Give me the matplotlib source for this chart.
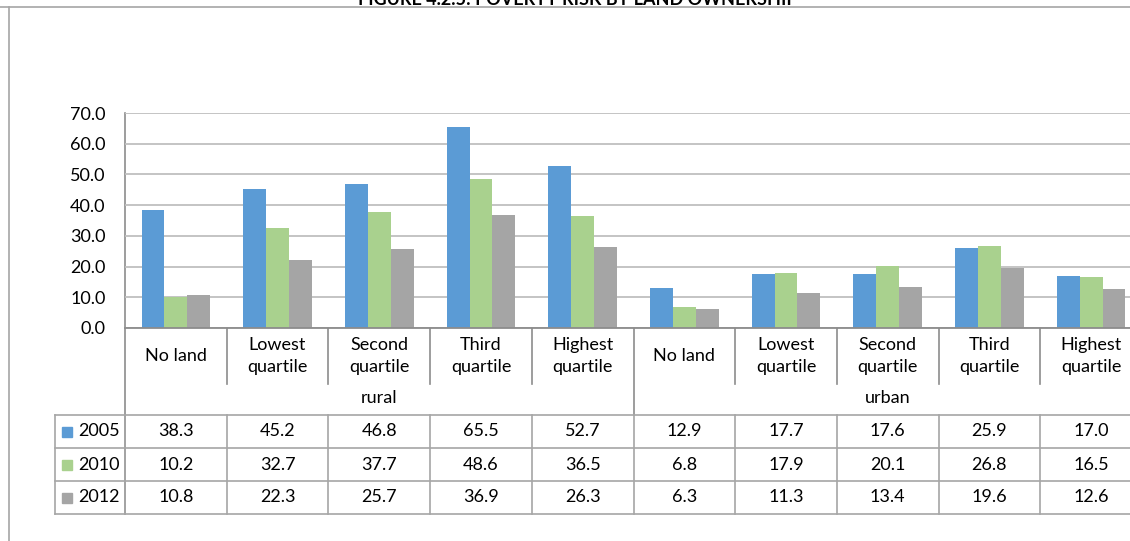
import matplotlib.pyplot as plt
from matplotlib.patches import Rectangle
from matplotlib.transforms import blended_transform_factory

# poverty risk by land ownership, rural vs urban
categories = ['No land', 'Lowest\nquartile', 'Second\nquartile', 'Third\nquartile', 'Highest\nquartile'] * 2
areas = ['rural', 'urban']
years = ['2005', '2010', '2012']
v2005 = [38.3, 45.2, 46.8, 65.5, 52.7, 12.9, 17.7, 17.6, 25.9, 17.0]
v2010 = [10.2, 32.7, 37.7, 48.6, 36.5, 6.8, 17.9, 20.1, 26.8, 16.5]
v2012 = [10.8, 22.3, 25.7, 36.9, 26.3, 6.3, 11.3, 13.4, 19.6, 12.6]
series = [v2005, v2010, v2012]
colors = ['#5B9BD5', '#A9D18E', '#A5A5A5']

plt.rcParams['font.family'] = ['Lato', 'DejaVu Sans']
FS = 13
W, H = 1130, 541
line_c = '#A6A6A6'

fig = plt.figure(figsize=(W / 100, H / 100), dpi=100)

# pixel-space overlay for the frame and the data table
ov = fig.add_axes([0, 0, 1, 1])
ov.set_xlim(0, W)
ov.set_ylim(H, 0)
ov.axis('off')

ax = fig.add_axes([125 / W, (H - 328) / H, 1017 / W, 215 / H])
ax.patch.set_alpha(0)
n = len(categories)
x = list(range(n))
bw = 0.225
for k, (vals, c) in enumerate(zip(series, colors)):
    ax.bar([i + (k - 1) * bw for i in x], vals, width=bw, color=c, zorder=2)
ax.set_xlim(-0.5, n - 0.5)
ax.set_ylim(0, 70)
ax.set_yticks(range(0, 71, 10))
ax.set_yticklabels([f'{t:.1f}' for t in range(0, 71, 10)])
ax.set_xticks([])
ax.yaxis.grid(True, color='#BFBFBF', lw=1.3)
ax.set_axisbelow(True)
for s in ['top', 'right', 'left']:
    ax.spines[s].set_visible(False)
ax.spines['bottom'].set_color('#8C8C8C')
ax.spines['bottom'].set_linewidth(1.3)
ax.tick_params(axis='y', length=0, labelsize=FS, pad=14)

tr = blended_transform_factory(ax.transData, ov.transData)

# outer frame
ov.plot([0, W], [7, 7], color=line_c, lw=1.2)
ov.plot([9, 9], [7, H], color=line_c, lw=1.2)

# category separators below the axis
for b in range(1, n):
    bottom = 415 if b == 5 else 384
    ov.plot([b - 0.5, b - 0.5], [328, bottom], color='#8C8C8C', lw=1.2, transform=tr, clip_on=False)
ov.plot([-0.5, -0.5], [113, 514], color='#8C8C8C', lw=1.2, transform=tr, clip_on=False)

for i, lab in enumerate(categories):
    ov.text(i, 356, lab, ha='center', va='center', fontsize=FS, linespacing=1.45, transform=tr)
for g, lab in enumerate(areas):
    ov.text(g * 5 + 2, 398, lab, ha='center', va='center', fontsize=FS, transform=tr)

# data table
rows = [415, 448, 481, 514]
for y in rows:
    ov.plot([55, W], [y, y], color=line_c, lw=1.2)
ov.plot([55, 55], [415, 514], color=line_c, lw=1.2)
for b in range(n + 1):
    ov.plot([b - 0.5, b - 0.5], [415, 514], color=line_c, lw=1.2, transform=tr, clip_on=False)
for r, (yr, vals, c) in enumerate(zip(years, series, colors)):
    yc = (rows[r] + rows[r + 1]) / 2
    ov.add_patch(Rectangle((62, yc - 5), 10, 10, color=c))
    ov.text(78, yc, yr, ha='left', va='center', fontsize=FS)
    for i, v in enumerate(vals):
        ov.text(i, yc, f'{v:.1f}', ha='center', va='center', fontsize=FS, transform=tr)

# title, mostly cut off at the top edge
ov.text(578, 5, 'FIGURE 4.2.5: POVERTY RISK BY LAND OWNERSHIP', ha='center', va='baseline',
        fontsize=13, weight='bold')

fig.savefig('out.png', dpi=100)
